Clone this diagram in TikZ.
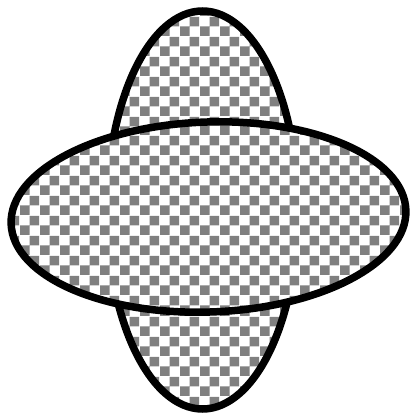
\documentclass[tikz,border=0pt]{standalone}
\usetikzlibrary{patterns.meta}
\tikzdeclarepattern{name=mychk, type=uncolored,
  bottom left={(0pt,0pt)}, top right={(20pt,20pt)}, tile size={(20pt,20pt)},
  code={\pgfpathrectangle{\pgfpointorigin}{\pgfqpoint{10pt}{10pt}}%
        \pgfpathrectangle{\pgfqpoint{10pt}{10pt}}{\pgfqpoint{10pt}{10pt}}%
        \pgfusepath{fill}}}
\tikzset{blob/.style={preaction={fill=white}, line width=7.5pt, draw=black, pattern={mychk}, pattern color=gray}}
\begin{document}
\begin{tikzpicture}[x=1pt,y=-1pt]
\fill[white] (0,0) rectangle (411,415);
\useasboundingbox (0,0) rectangle (411,415);
\draw[blob] (202.5,210) ellipse [x radius=95.5pt, y radius=199pt];
\draw[blob, rotate around={2:(208.5,217)}] (208.5,217) ellipse [x radius=197.5pt, y radius=95pt];
\end{tikzpicture}
\end{document}
